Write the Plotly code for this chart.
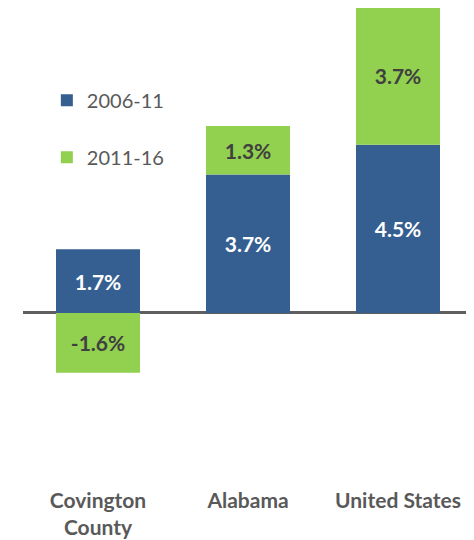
import plotly.graph_objects as go

categories = ["Covington<br>County", "Alabama", "United States"]
series_names = ["2006-11", "2011-16"]
values_2006_11 = [1.7, 3.7, 4.5]
values_2011_16 = [-1.6, 1.3, 3.7]

blue = "#365F91"
green = "#92D050"

fig = go.Figure()
for name, vals, col, tcol in [(series_names[0], values_2006_11, blue, "#FFFFFF"),
                              (series_names[1], values_2011_16, green, "#404040")]:
    fig.add_trace(go.Bar(
        x=categories, y=vals, name=name, legendgroup=name,
        marker=dict(color=col, line=dict(width=0)),
        texttemplate="%{y:.1f}%", textposition="inside", insidetextanchor="middle",
        textangle=0, constraintext="none",
        textfont=dict(family="Lato", size=21, color=tcol, weight="bold"),
    ))

fig.update_layout(
    width=466, height=532,
    barmode="relative", bargap=0.44,
    margin=dict(l=15, r=1, t=0, b=54),
    paper_bgcolor="white", plot_bgcolor="white",
    showlegend=True,
    legend=dict(x=0.053, y=0.848, xanchor="left", yanchor="top",
                traceorder="grouped", tracegroupgap=28,
                font=dict(family="Lato", size=20, color="#595959"),
                bgcolor="rgba(0,0,0,0)"),
    xaxis=dict(showline=False, showgrid=False, ticks="",
               tickfont=dict(family="Lato", size=21, color="#595959", weight="bold")),
    yaxis=dict(range=[-4.63, 8.155], showgrid=False, showticklabels=False, showline=False,
               zeroline=True, zerolinecolor="#5F5F5F", zerolinewidth=3, layer="above traces"),
)

fig.write_html("out.html")
